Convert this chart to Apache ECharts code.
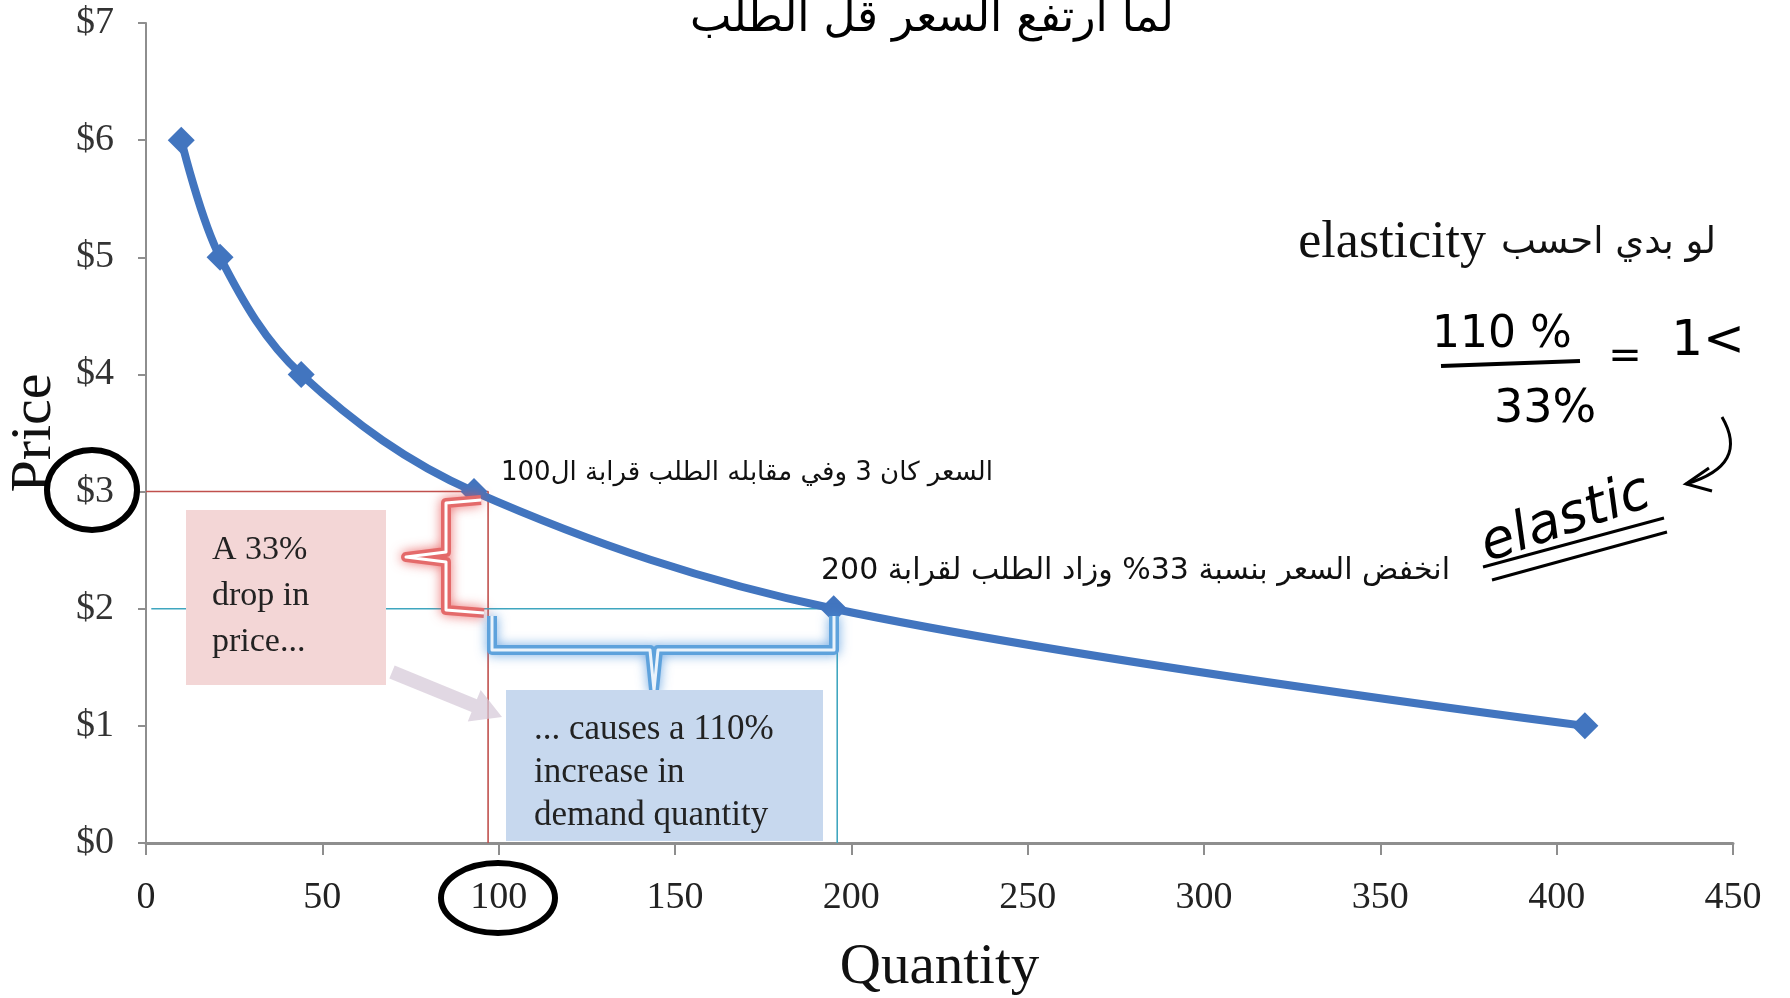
<!DOCTYPE html>
<html>
<head>
<meta charset="utf-8">
<script src="https://cdn.jsdelivr.net/npm/echarts/dist/echarts.min.js"></script>
<style>html,body{margin:0;padding:0;background:#fff;}#chart{width:1790px;height:998px;}</style>
</head>
<body>
<div id="chart"></div>
<script>
// ---- data ----
const quantity = [10, 21, 44, 93, 195, 408];
const price = [6, 5, 4, 3, 2, 1];
const xTickValues = [0, 50, 100, 150, 200, 250, 300, 350, 400, 450];
const yTickLabels = ['$0', '$1', '$2', '$3', '$4', '$5', '$6', '$7'];
const oldPriceLine = [[0, 3], [97, 3], [97, 0]];      // red guide
const newPriceLine = [[1.5, 2], [196, 2], [196, 0]];  // teal guide

const RLE = '\u202B', PDF = '\u202C';
const arabicNote1 = 'السعر كان 3 وفي مقابله الطلب قرابة ال100';
const arabicNote2 = 'انخفض السعر بنسبة 33% وزاد الطلب لقرابة 200';
const arabicNote3 = 'لو بدي احسب';
const latinNote3 = 'elasticity';
const handTitle = 'لما ارتفع السعر قل الطلب';

const chart = echarts.init(document.getElementById('chart'), null, {renderer: 'canvas'});
const serif = '"Liberation Serif", "Times New Roman", serif';

const option = {
  animation: false,
  backgroundColor: '#ffffff',
  grid: {left: 146, right: 57, top: 23, bottom: 155, containLabel: false, outerBoundsMode: 'none'},
  xAxis: {
    type: 'value', min: 0, max: 450, interval: 50,
    name: 'Quantity', nameLocation: 'middle', nameGap: 97,
    nameTextStyle: {fontFamily: serif, fontSize: 57, color: '#111'},
    axisLine: {show: true, lineStyle: {color: '#8e8e8e', width: 3}},
    axisTick: {show: true, length: 12, lineStyle: {color: '#8e8e8e', width: 2}},
    axisLabel: {fontFamily: serif, fontSize: 38, color: '#222', margin: 36,
      formatter: v => xTickValues.includes(v) ? String(v) : ''},
    splitLine: {show: false}
  },
  yAxis: {
    type: 'value', min: 0, max: 7, interval: 1,
    name: 'Price', nameLocation: 'middle', nameGap: 82, nameRotate: 90,
    nameTextStyle: {fontFamily: serif, fontSize: 58, color: '#111'},
    axisLine: {show: true, lineStyle: {color: '#8e8e8e', width: 2}},
    axisTick: {show: true, length: 8, lineStyle: {color: '#8e8e8e', width: 2}},
    axisLabel: {fontFamily: serif, fontSize: 38, color: '#333', margin: 32,
      formatter: v => yTickLabels[v]},
    splitLine: {show: false}
  },
  series: [
    {
      type: 'line', data: oldPriceLine, symbol: 'none', z: 2,
      lineStyle: {color: '#c0504d', width: 1.6}, silent: true
    },
    {
      type: 'line', data: newPriceLine, symbol: 'none', z: 2,
      lineStyle: {color: '#3fa6bf', width: 1.6}, silent: true
    },
    {
      type: 'line', name: 'Demand',
      data: quantity.map((q, i) => [q, price[i]]),
      smooth: 0.35, symbol: 'diamond', symbolSize: 27, z: 6,
      lineStyle: {color: '#4275bf', width: 8},
      itemStyle: {color: '#4275bf'}
    }
  ]
};
chart.setOption(option);

// ---- annotations ----
function arrowPoly(x1, y1, x2, y2, shaft, head, headLen) {
  const dx = x2 - x1, dy = y2 - y1, L = Math.hypot(dx, dy);
  const ux = dx / L, uy = dy / L, nx = -uy, ny = ux;
  const bx = x2 - ux * headLen, by = y2 - uy * headLen;
  return [
    [x1 + nx * shaft / 2, y1 + ny * shaft / 2],
    [bx + nx * shaft / 2, by + ny * shaft / 2],
    [bx + nx * head / 2, by + ny * head / 2],
    [x2, y2],
    [bx - nx * head / 2, by - ny * head / 2],
    [bx - nx * shaft / 2, by - ny * shaft / 2],
    [x1 - nx * shaft / 2, y1 - ny * shaft / 2]
  ];
}
const handFont = '"DejaVu Sans", "Noto Sans", sans-serif';
const redBrace = [[481, 500], [446, 503], [446, 552], [406, 557], [446, 562], [446, 610], [484, 613]];
const blueBrace = [[492, 616], [492, 650], [650, 650], [654, 690], [658, 650], [834, 650], [834, 616]];

const graphics = [
  // pink box
  {type: 'rect', z: 10, shape: {x: 186, y: 510, width: 200, height: 175}, style: {fill: '#f3d6d6'}},
  {type: 'text', z: 11, style: {x: 212, y: 527, text: 'A 33%\ndrop in\nprice...', font: '34px ' + serif, fill: '#222', lineHeight: 46}},
  // blue box
  {type: 'rect', z: 10, shape: {x: 506, y: 690, width: 317, height: 151}, style: {fill: '#c7d8ee'}},
  {type: 'text', z: 11, style: {x: 534, y: 708, text: '... causes a 110%\nincrease in\ndemand quantity', font: '35px ' + serif, fill: '#222', lineHeight: 43}},
  // grey arrow from pink box to blue box
  {type: 'polygon', z: 9, shape: {points: arrowPoly(392, 672, 502, 717, 14, 34, 30)}, style: {fill: 'rgba(212,200,215,0.7)'}},
  // red brace
  {type: 'polyline', z: 8, shape: {points: redBrace}, style: {stroke: '#e46a6a', lineWidth: 10, lineJoin: 'round', shadowBlur: 12, shadowColor: 'rgba(230,80,80,0.8)'}},
  {type: 'polyline', z: 8, shape: {points: redBrace}, style: {stroke: '#ffffff', lineWidth: 3, lineJoin: 'round'}},
  // blue brace
  {type: 'polyline', z: 8, shape: {points: blueBrace}, style: {stroke: '#5ea2dc', lineWidth: 10, lineJoin: 'round', shadowBlur: 12, shadowColor: 'rgba(80,150,220,0.8)'}},
  {type: 'polyline', z: 8, shape: {points: blueBrace}, style: {stroke: '#eaf3fb', lineWidth: 3, lineJoin: 'round'}},
  // Arabic typed notes
  {type: 'text', z: 12, style: {x: 993, y: 473, text: RLE + arabicNote1 + PDF, font: '26px "DejaVu Sans"', fill: '#111', align: 'right', verticalAlign: 'middle'}},
  {type: 'text', z: 12, style: {x: 1450, y: 571, text: RLE + arabicNote2 + PDF, font: '30px "DejaVu Sans"', fill: '#111', align: 'right', verticalAlign: 'middle'}},
  {type: 'text', z: 12, style: {x: 1716, y: 243, text: RLE + arabicNote3 + PDF, font: '37px "DejaVu Sans"', fill: '#111', align: 'right', verticalAlign: 'middle'}},
  {type: 'text', z: 12, style: {x: 1486, y: 243, text: latinNote3, font: '52px ' + serif, fill: '#111', align: 'right', verticalAlign: 'middle'}},
  // handwritten title
  {type: 'text', z: 12, style: {x: 932, y: 20, text: handTitle, font: '44px ' + handFont, fill: '#000', align: 'center', verticalAlign: 'middle'}},
  // hand-drawn circles
  {type: 'ellipse', z: 12, shape: {cx: 92, cy: 490, rx: 45, ry: 40}, style: {fill: 'none', stroke: '#000', lineWidth: 6}},
  {type: 'ellipse', z: 12, shape: {cx: 498, cy: 898, rx: 57, ry: 35}, style: {fill: 'none', stroke: '#000', lineWidth: 6}},
  // handwritten fraction
  {type: 'text', z: 12, style: {x: 1502, y: 336, text: '110 %', font: '44px ' + handFont, fill: '#000', align: 'center', verticalAlign: 'middle'}},
  {type: 'line', z: 12, shape: {x1: 1441, y1: 366, x2: 1580, y2: 361}, style: {stroke: '#000', lineWidth: 4}},
  {type: 'text', z: 12, style: {x: 1545, y: 410, text: '33%', font: '46px ' + handFont, fill: '#000', align: 'center', verticalAlign: 'middle'}},
  {type: 'text', z: 12, style: {x: 1625, y: 358, text: '=', font: '40px ' + handFont, fill: '#000', align: 'center', verticalAlign: 'middle'}},
  {type: 'text', z: 12, style: {x: 1708, y: 342, text: '1<', font: '50px ' + handFont, fill: '#000', align: 'center', verticalAlign: 'middle'}},
  // curved arrow to "elastic"
  {type: 'bezierCurve', z: 12, shape: {x1: 1722, y1: 417, cpx1: 1750, cpy1: 465, x2: 1686, y2: 484}, style: {stroke: '#000', lineWidth: 3, fill: 'none'}},
  {type: 'polyline', z: 12, shape: {points: [[1709, 468], [1686, 484], [1712, 491]]}, style: {stroke: '#000', lineWidth: 3}},
  // "elastic" with double underline
  {type: 'text', z: 12, x: 1566, y: 520, rotation: 0.33, style: {x: 0, y: 0, text: 'elastic', font: 'italic 54px ' + handFont, fill: '#000', align: 'center', verticalAlign: 'middle'}},
  {type: 'line', z: 12, shape: {x1: 1483, y1: 567, x2: 1664, y2: 518}, style: {stroke: '#000', lineWidth: 3}},
  {type: 'line', z: 12, shape: {x1: 1492, y1: 580, x2: 1667, y2: 532}, style: {stroke: '#000', lineWidth: 3}}
];
chart.setOption({graphic: graphics});
</script>
</body>
</html>
